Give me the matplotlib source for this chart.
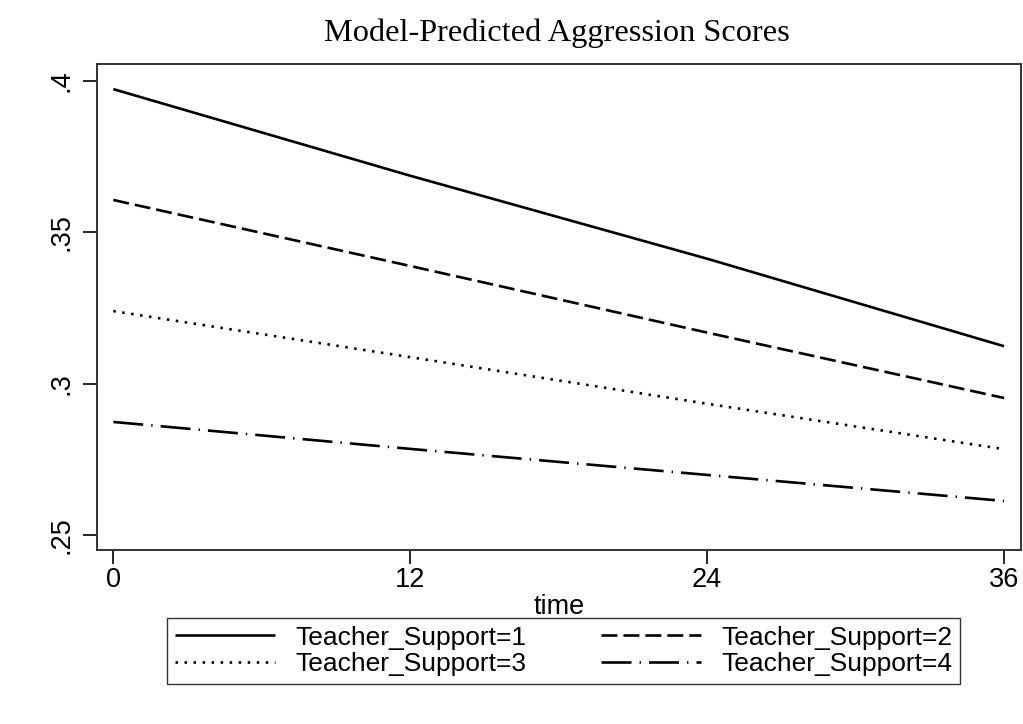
import matplotlib
matplotlib.use("Agg")
from matplotlib import pyplot as plt
from matplotlib.ticker import FuncFormatter

# Данные
time = [0, 12, 24, 36]
support_1 = [0.3973, 0.3687, 0.3413, 0.3124]
support_2 = [0.3607, 0.3389, 0.3169, 0.2953]
support_3 = [0.3240, 0.3088, 0.2934, 0.2784]
support_4 = [0.2874, 0.2785, 0.2699, 0.2613]
labels = ["Teacher_Support=1", "Teacher_Support=2",
          "Teacher_Support=3", "Teacher_Support=4"]
x_ticks = [0, 12, 24, 36]
y_ticks = [0.25, 0.3, 0.35, 0.4]

plt.rcParams['font.family'] = ['Liberation Sans', 'DejaVu Sans']
plt.rcParams['lines.scale_dashes'] = False
FS = 19.5

fig = plt.figure(figsize=(10.23, 7.24), dpi=100)
ax = fig.add_axes([0.0948, 0.2403, 0.9029, 0.6713])

styles = ['-', (0, (11.5, 4.3)), (0, (1.8, 4.7)), (0, (21.6, 5.8, 1.0, 5.8))]
series = [support_1, support_2, support_3, support_4]
handles = []
for values, ls, lbl in zip(series, styles, labels):
    h, = ax.plot(time, values, color='black', linestyle=ls, linewidth=1.9,
                 label=lbl, solid_capstyle='butt', dash_capstyle='butt')
    handles.append(h)

ax.set_xlim(-0.66, 36.67)
ax.set_ylim(0.2451, 0.4056)
ax.set_xticks(x_ticks)
ax.set_yticks(y_ticks)
ax.yaxis.set_major_formatter(FuncFormatter(lambda v, p: f"{v:g}".lstrip('0')))
ax.tick_params(axis='both', direction='out', length=10, width=1.2,
               labelsize=FS, colors='black')
ax.tick_params(axis='y', pad=6)
ax.tick_params(axis='x', pad=2)
for lab in ax.get_yticklabels():
    lab.set_rotation(90)
    lab.set_va('center')
for sp in ax.spines.values():
    sp.set_linewidth(1.4)
    sp.set_color('#333333')

ax.set_xlabel("time", fontsize=FS, labelpad=1)
fig.suptitle("Model-Predicted Aggression Scores", x=0.544, y=0.975,
             fontsize=23.3, family='Liberation Serif')

# Легенда: матплотлиб заполняет по столбцам, поэтому порядок 1,3,2,4
order = [0, 2, 1, 3]
leg = fig.legend(handles=[handles[i] for i in order], loc='center', ncol=2,
                 bbox_to_anchor=(167 / 1023, 0.1008, 793 / 1023, 0),
                 mode='expand', fontsize=19,
                 handlelength=3.8, handletextpad=0.75, columnspacing=1.5,
                 labelspacing=0.1, frameon=True, fancybox=False,
                 borderpad=0.3, borderaxespad=0)
leg.get_frame().set_edgecolor('black')
leg.get_frame().set_linewidth(1.0)

fig.savefig("out.png", dpi=100)
